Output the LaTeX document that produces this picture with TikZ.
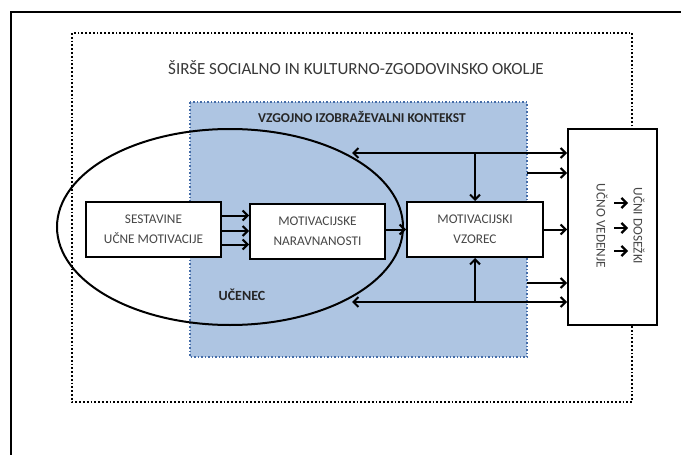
\documentclass[tikz,border=0pt]{standalone}
\usepackage{fontspec}
\setmainfont{Carlito}
\usetikzlibrary{arrows.meta,shapes.geometric}
\definecolor{ctxfill}{RGB}{174,197,226}
\definecolor{ctxline}{RGB}{68,108,168}

\begin{document}
\begin{tikzpicture}[x=1pt,y=-1pt,
   box/.style={draw=black,line width=2pt,fill=white,minimum width=135pt,minimum height=55pt,
      align=center,text=black!72,font=\fontsize{13.3}{20}\selectfont},
   arr/.style={-{Straight Barb[length=5pt,width=10pt]},line width=2pt},
   arrs/.style={{Straight Barb[length=5pt,width=10pt]}-{Straight Barb[length=5pt,width=10pt]},line width=2pt}]
   \useasboundingbox (0,0) rectangle (681,455);

   % frames
   \draw[line width=1.6pt] (11,455) -- (11,12) -- (681,12);
   \draw[dotted,line width=1.8pt] (72,33) rectangle (632,402);
   \node[name=okolje,text=black!78,font=\fontsize{17}{19}\selectfont] at (356,68) {ŠIRŠE SOCIALNO IN KULTURNO-ZGODOVINSKO OKOLJE};
   \draw[ctxline,dotted,line width=1.5pt,fill=ctxfill] (190,102) rectangle (527,357);
   \node[name=kontekst,text=black!85,font=\bfseries\fontsize{13.5}{15}\selectfont] at (362,117) {VZGOJNO IZOBRAŽEVALNI KONTEKST};

   % learner
   \node[draw=black,name=ucenec,ellipse,line width=2pt,minimum width=346pt,minimum height=196pt,inner sep=0pt] at (230,227) {};
   \node[name=ucenectxt,text=black!85,font=\bfseries\fontsize{14}{16}\selectfont] at (242,295) {UČENEC};

   % boxes
   \node[box,name=sest] at (153.5,229.5) {SESTAVINE\\UČNE MOTIVACIJE};
   \node[box,name=narav] at (317.5,231) {MOTIVACIJSKE\\NARAVNANOSTI};
   \node[box,name=vzorec,minimum width=136pt] at (475,229.5) {MOTIVACIJSKI\\VZOREC};
   \node[draw=black,name=izid,line width=2pt,fill=white,minimum width=89pt,minimum height=196pt] at (612.5,227) {};
   \node[name=izidtxt,rotate=-90,align=center,text=black!72,font=\fontsize{13.3}{15}\selectfont] at (620.5,226) {UČNI DOSEŽKI\\[22pt]UČNO VEDENJE};

   \coordinate (zg) at (352,153);
   \coordinate (zg2) at (527,173);
   \coordinate (sp) at (352,302);
   \coordinate (sp2) at (527,283);

   \path[arr]
      ([yshift=14pt]sest.east) edge ([yshift=14pt]sest.east -| narav.west)
      (sest.east |- narav.center) edge (narav.west)
      ([yshift=-15pt]sest.east) edge ([yshift=-15pt]sest.east -| narav.west)
      (narav.east |- vzorec.center) edge (vzorec.west)
      (vzorec.east) edge (vzorec.east -| izid.west)
      (zg -| vzorec.north) edge (vzorec.north)
      (sp -| vzorec.south) edge (vzorec.south)
      (zg2) edge (zg2 -| izid.west)
      (sp2) edge (sp2 -| izid.west);
   \path[arrs]
      (zg) edge (zg -| izid.west)
      (sp) edge (sp -| izid.west);

   \foreach \yy in {203,228,251}
      \draw[arr,line width=2.2pt] (614,\yy) -- (628,\yy);
\end{tikzpicture}
\end{document}
